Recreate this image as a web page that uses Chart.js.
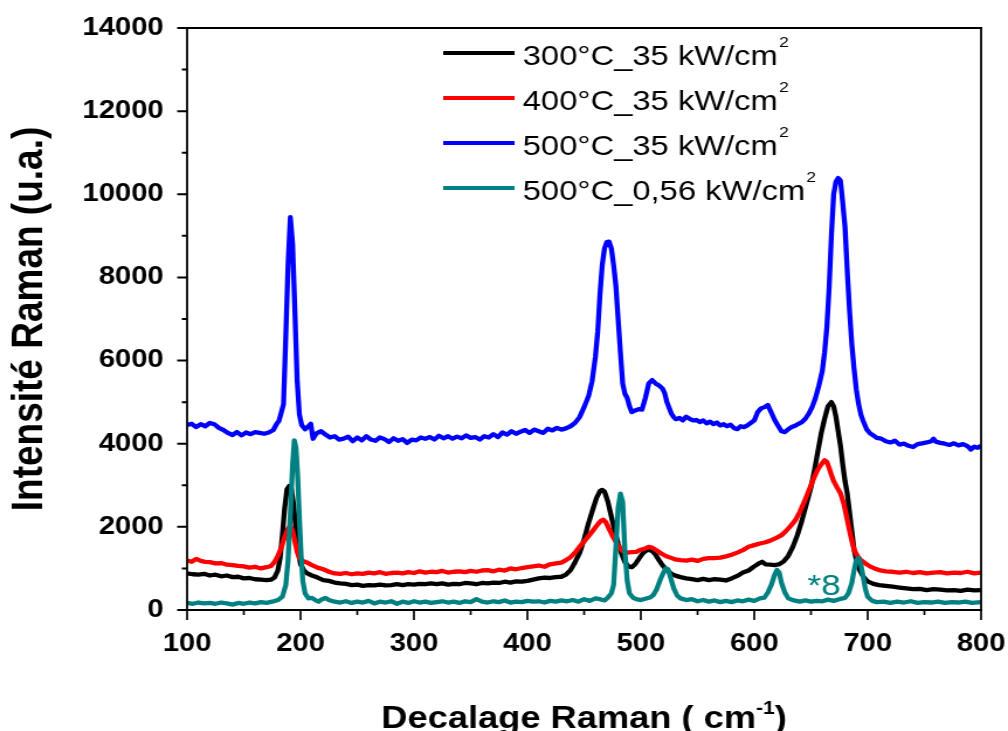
<!DOCTYPE html>
<html>
<head>
<meta charset="utf-8">
<script src="https://cdn.jsdelivr.net/npm/chart.js@4.4.1/dist/chart.umd.min.js"></script>
<style>
  html, body { margin: 0; padding: 0; background: #fff; overflow: hidden; }
</style>
</head>
<body>
<!-- the original picture is stretched sideways, so the canvas is drawn narrow and widened -->
<canvas id="graphique" width="862" height="731" style="display:block;width:1008px;height:731px"></canvas>
<script>
// --- données (décalage Raman en cm-1, intensité en u.a.) ---
const xNoir = [
  100,105,110,115,120,125,130,135,140,145,
  150,155,160,165,170,174,177,180,182,184,
  186,188,190,192,194,196,198,200,203,206,
  210,215,220,225,230,235,240,245,250,255,
  260,265,270,275,280,285,290,295,300,305,
  310,315,320,325,330,335,340,345,350,355,
  360,365,370,375,380,385,390,395,400,405,
  410,415,420,425,430,434,438,442,446,450,
  454,458,461,464,466,468,471,474,477,480,
  483,486,489,492,495,498,501,504,507,510,
  513,516,519,523,527,531,535,540,545,550,
  555,560,565,570,575,580,585,590,595,600,
  604,607,610,614,618,622,626,630,634,638,
  642,646,650,653,656,659,662,665,668,670,
  672,674,676,678,680,682,684,686,688,690,
  693,696,700,705,710,716,722,728,734,740,
  746,752,758,764,770,776,782,788,794,800
];
const yNoir = [
  880,860,850,870,830,850,810,830,790,800,
  760,770,740,730,720,730,780,950,1250,1800,
  2450,2900,2980,2900,2500,1900,1400,1100,950,880,
  830,780,720,700,660,640,630,600,610,580,
  600,590,610,590,600,620,600,620,610,630,
  620,640,620,640,610,630,620,650,640,620,
  650,640,660,650,680,660,690,680,700,730,
  760,780,770,790,800,850,960,1150,1370,1700,
  2100,2450,2700,2860,2890,2850,2600,2250,1900,1600,
  1350,1150,1050,1030,1100,1220,1340,1420,1450,1420,
  1330,1200,1080,960,870,820,790,760,740,720,
  750,720,740,730,710,760,820,900,950,1050,
  1120,1160,1100,1090,1080,1100,1170,1300,1520,1800,
  2150,2550,2950,3350,3800,4250,4600,4900,5000,4900,
  4650,4300,3950,3500,3100,2800,2350,1900,1450,1200,
  960,800,690,630,600,580,560,540,520,500,
  510,480,500,490,470,480,460,490,470,480
];

const xRouge = [
  100,104,108,112,116,120,125,130,135,140,
  145,150,155,160,165,170,174,177,180,183,
  186,189,191,193,195,197,199,202,205,210,
  215,220,225,230,235,240,245,250,255,260,
  265,270,275,280,285,290,295,300,305,310,
  315,320,325,330,335,340,345,350,355,360,
  365,370,375,380,385,390,395,400,405,410,
  415,420,425,430,434,438,442,446,450,454,
  458,462,465,467,469,472,475,478,481,484,
  488,492,496,500,504,507,510,514,518,522,
  526,530,535,540,545,550,555,560,565,570,
  575,580,585,590,595,600,605,610,615,620,
  624,628,632,636,640,644,647,650,653,656,
  659,662,664,666,668,670,673,676,679,682,
  685,688,691,694,698,702,706,710,716,722,
  728,734,740,746,752,758,764,770,776,782,
  788,794,800
];
const yRouge = [
  1190,1160,1230,1180,1160,1150,1120,1130,1090,1080,
  1060,1050,1020,1040,1000,1030,1060,1150,1300,1500,
  1750,1960,2020,1900,1650,1400,1250,1180,1150,1080,
  1020,980,920,880,870,890,860,880,870,900,
  880,910,870,890,900,880,910,890,930,900,
  920,910,940,900,920,930,910,940,920,950,
  960,930,970,950,1000,980,1010,1030,1050,1070,
  1040,1100,1120,1140,1200,1270,1380,1520,1650,1780,
  1920,2060,2150,2170,2120,1950,1780,1640,1500,1420,
  1380,1390,1400,1450,1480,1520,1500,1430,1360,1300,
  1260,1220,1200,1190,1210,1180,1230,1250,1250,1260,
  1290,1330,1380,1440,1520,1560,1600,1630,1680,1740,
  1800,1900,2020,2150,2350,2600,2800,3000,3200,3380,
  3500,3600,3560,3420,3250,3100,2950,2810,2550,2160,
  1780,1450,1300,1200,1120,1050,1000,960,930,920,
  900,920,890,910,880,900,910,880,900,890,
  920,880,900
];

const xBleu = [
  100,104,108,112,116,120,124,128,132,136,
  140,144,148,152,156,160,164,168,172,176,
  179,181,183,185,187,189,191,193,195,197,
  199,201,204,207,209,211,214,218,222,226,
  230,234,238,242,246,250,254,258,262,266,
  270,274,278,282,286,290,294,298,302,306,
  310,314,318,322,326,330,334,338,342,346,
  350,354,358,362,366,370,374,378,382,386,
  390,394,398,402,406,410,414,418,422,426,
  430,434,438,442,446,450,454,457,460,462,
  464,466,468,470,472,474,476,478,480,482,
  484,486,488,490,492,495,498,501,504,507,
  510,513,516,519,521,523,525,527,529,531,
  534,537,540,543,546,549,552,555,558,561,
  564,567,570,573,576,579,582,585,588,591,
  594,597,600,603,606,609,612,615,618,621,
  624,627,630,633,636,639,642,645,648,651,
  654,657,660,662,664,666,668,670,672,674,
  676,678,680,682,684,686,688,690,692,694,
  696,699,702,705,708,712,716,720,724,728,
  732,736,740,744,748,752,756,758,760,764,
  768,772,776,780,784,788,791,794,797,800
];
const yBleu = [
  4450,4480,4400,4470,4420,4500,4470,4380,4330,4260,
  4210,4280,4200,4270,4230,4280,4260,4240,4270,4330,
  4480,4550,4750,4950,6600,8300,9450,8800,7200,5530,
  4700,4450,4350,4420,4480,4120,4250,4300,4220,4150,
  4180,4100,4120,4170,4060,4150,4080,4180,4100,4070,
  4150,4110,4040,4130,4070,4110,4020,4100,4080,4150,
  4120,4160,4100,4190,4130,4180,4120,4170,4130,4200,
  4140,4160,4100,4180,4150,4230,4160,4270,4220,4300,
  4240,4290,4330,4260,4340,4300,4260,4360,4320,4380,
  4340,4370,4420,4500,4640,4880,5150,5500,6100,6700,
  7600,8300,8700,8850,8860,8700,8300,7800,7000,6200,
  5450,5200,5100,4900,4760,4800,4830,4820,5100,5450,
  5530,5450,5400,5330,5220,5000,4860,4720,4640,4590,
  4620,4560,4650,4600,4560,4570,4520,4560,4490,4530,
  4470,4510,4440,4470,4420,4460,4380,4350,4420,4400,
  4440,4500,4560,4760,4850,4880,4930,4750,4570,4430,
  4300,4280,4350,4400,4430,4480,4520,4600,4720,4880,
  5100,5400,5750,6200,6800,7750,9000,10000,10300,10390,
  10330,9800,9210,8150,7200,6400,5800,5300,4950,4700,
  4550,4350,4250,4200,4140,4120,4060,4030,4070,3980,
  4000,3950,3920,3990,4010,4030,4060,4120,4050,4020,
  4000,3970,4010,3960,3990,3940,3860,3930,3900,3950
];

const xCyan = [
  100,105,110,115,120,125,130,135,140,145,
  150,155,160,165,170,175,180,184,187,189,
  191,193,194.5,196,197.5,199,200.5,202,204,207,
  210,213,216,219,222,225,230,235,240,245,
  250,255,260,265,270,275,280,285,290,295,
  300,305,310,315,320,325,330,335,340,345,
  350,355,360,365,370,375,380,385,390,395,
  400,405,410,415,420,425,430,435,440,445,
  450,455,460,464,468,471,474,476,478,480,
  482,484,486,488,490,493,496,500,504,508,
  511,514,517,520,522,524,526,529,532,535,
  540,545,550,555,560,565,570,575,580,585,
  590,595,600,605,609,612,615,618,620,622,
  624,627,630,635,640,645,650,655,660,665,
  670,675,680,683,686,688,690,692,694,696,
  698,700,704,708,714,720,726,732,738,744,
  750,756,762,768,774,780,786,792,800
];
const yCyan = [
  170,150,180,160,170,150,180,160,130,170,
  150,180,160,190,170,200,240,320,600,1200,
  2300,3500,4080,3900,3200,2200,1300,700,400,280,
  290,240,200,260,290,240,200,180,210,170,
  200,180,220,160,200,180,210,150,200,170,
  210,180,200,170,190,210,180,200,170,210,
  190,260,200,180,210,190,230,180,200,190,
  220,200,210,180,220,200,230,210,240,200,
  260,220,280,260,230,300,400,600,1500,2450,
  2800,2600,1400,700,400,300,260,240,270,300,
  360,500,720,900,1000,980,800,520,350,280,
  240,260,210,240,200,230,190,220,190,230,
  210,250,220,280,300,420,600,850,960,900,
  650,420,280,230,200,230,200,220,210,250,
  220,260,290,400,650,950,1200,1250,1100,800,
  500,320,220,190,200,170,200,180,210,170,
  190,180,200,170,190,180,200,170,190
];

const series = ['300°C_35 kW/cm', '400°C_35 kW/cm', '500°C_35 kW/cm', '500°C_0,56 kW/cm'];
const couleurs = ['#000000', '#ff0000', '#0000ff', '#008080'];

const police = "'Liberation Sans', Arial, sans-serif";

function points(xs, ys) {
  return xs.map((v, i) => ({ x: v, y: ys[i] }));
}

// habillage façon Origin : cadre, graduations, légende, titres d'axes
const habillage = {
  id: 'habillage',
  afterDraw(chart) {
    const { ctx, chartArea: a, scales: { x, y } } = chart;
    ctx.save();
    ctx.strokeStyle = '#000';

    // cadre
    ctx.lineWidth = 2;
    ctx.beginPath();
    ctx.moveTo(a.left - 1, a.top); ctx.lineTo(a.right + 1, a.top);
    ctx.moveTo(a.left - 1, a.bottom); ctx.lineTo(a.right + 1, a.bottom);
    ctx.stroke();
    ctx.lineWidth = 1.8;
    ctx.beginPath();
    ctx.moveTo(a.left, a.top); ctx.lineTo(a.left, a.bottom);
    ctx.moveTo(a.right, a.top); ctx.lineTo(a.right, a.bottom);
    ctx.stroke();

    // graduations (majeures et mineures) vers l'extérieur
    ctx.lineWidth = 2;
    ctx.beginPath();
    for (let v = 0; v <= 14000; v += 1000) {
      const py = y.getPixelForValue(v);
      ctx.moveTo(a.left, py);
      ctx.lineTo(a.left - (v % 2000 === 0 ? 8.5 : 4.5), py);
    }
    ctx.stroke();
    ctx.lineWidth = 1.7;
    ctx.beginPath();
    for (let v = 100; v <= 800; v += 50) {
      const px = x.getPixelForValue(v);
      ctx.moveTo(px, a.bottom);
      ctx.lineTo(px, a.bottom + (v % 100 === 0 ? 10 : 5));
    }
    ctx.stroke();

    // légende
    const rangs = [53, 98, 143, 188];
    chart.data.datasets.forEach((ds, i) => {
      const ly = rangs[i];
      ctx.strokeStyle = ds.borderColor;
      ctx.lineWidth = 4;
      ctx.beginPath();
      ctx.moveTo(379, ly); ctx.lineTo(440, ly);
      ctx.stroke();
      ctx.fillStyle = '#000';
      ctx.textAlign = 'left';
      ctx.textBaseline = 'alphabetic';
      ctx.font = '28px ' + police;
      ctx.fillText(ds.label, 447, ly + 12);
      const w = ctx.measureText(ds.label).width;
      ctx.font = '15px ' + police;
      ctx.fillText('2', 447 + w + 1, ly - 6);
    });

    // annotation *8 sur la courbe cyan
    ctx.fillStyle = '#008080';
    ctx.font = '30px ' + police;
    ctx.fillText('*8', x.getPixelForValue(647), y.getPixelForValue(360));

    // titre de l'axe x avec exposant
    ctx.fillStyle = '#000';
    const t1 = 'Decalage Raman ( cm', t2 = '-1', t3 = ')';
    ctx.font = 'bold 31px ' + police;
    const w1 = ctx.measureText(t1).width, w3 = ctx.measureText(t3).width;
    ctx.font = 'bold 18px ' + police;
    const w2 = ctx.measureText(t2).width;
    let cx = (a.left + a.right) / 2 - (w1 + w2 + w3) / 2;
    ctx.font = 'bold 31px ' + police;
    ctx.fillText(t1, cx, 728);
    ctx.font = 'bold 18px ' + police;
    ctx.fillText(t2, cx + w1, 714);
    ctx.font = 'bold 31px ' + police;
    ctx.fillText(t3, cx + w1 + w2, 728);

    // titre de l'axe y
    ctx.translate(26, (a.top + a.bottom) / 2);
    ctx.rotate(-Math.PI / 2);
    ctx.textAlign = 'center';
    ctx.textBaseline = 'middle';
    ctx.font = 'bold 37px ' + police;
    ctx.fillText('Intensité Raman (u.a.)', 0, 0);
    ctx.restore();
  }
};

const donnees = [points(xNoir, yNoir), points(xRouge, yRouge), points(xBleu, yBleu), points(xCyan, yCyan)];

new Chart(document.getElementById('graphique'), {
  type: 'line',
  data: {
    datasets: donnees.map((d, i) => ({
      label: series[i],
      data: d,
      borderColor: couleurs[i],
      backgroundColor: couleurs[i],
      borderWidth: 4.3,
      borderJoinStyle: 'round',
      pointRadius: 0,
      tension: 0,
      fill: false,
      order: 4 - i
    }))
  },
  options: {
    responsive: false,
    animation: false,
    layout: { padding: { left: 0, right: 23, top: 28, bottom: 0 } },
    plugins: {
      legend: { display: false },
      tooltip: { enabled: false }
    },
    scales: {
      x: {
        type: 'linear',
        min: 100,
        max: 800,
        ticks: { stepSize: 100, color: '#000', padding: 19, maxRotation: 0, autoSkip: false,
                 callback: v => String(v),
                 font: { family: police, size: 25, weight: 'bold' } },
        grid: { display: false, drawTicks: false },
        border: { display: false },
        afterFit: s => { s.height = 121; s.paddingLeft = 0; s.paddingRight = 0; }
      },
      y: {
        min: 0,
        max: 14000,
        ticks: { stepSize: 2000, color: '#000', padding: 20,
                 callback: v => String(v),
                 font: { family: police, size: 25, weight: 'bold' } },
        grid: { display: false, drawTicks: false },
        border: { display: false },
        afterFit: s => { s.width = 160; s.paddingTop = 0; s.paddingBottom = 0; }
      }
    }
  },
  plugins: [habillage]
});
</script>
</body>
</html>
